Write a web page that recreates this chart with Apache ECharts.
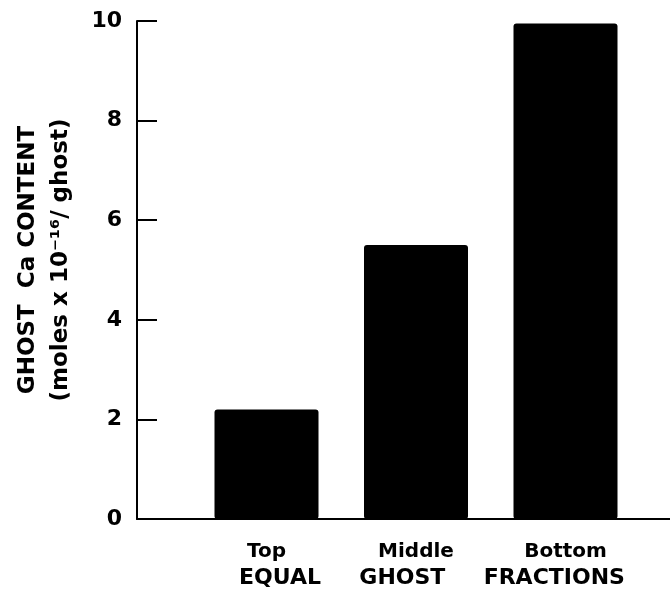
<!DOCTYPE html>
<html>
<head>
<meta charset="utf-8">
<script src="https://cdn.jsdelivr.net/npm/echarts@6/dist/echarts.min.js"></script>
<style>html,body{margin:0;padding:0;background:#fff}#c{width:670px;height:592px}</style>
</head>
<body>
<div id="c"></div>
<script>
const categories = ['Top', 'Middle', 'Bottom'];
const caContent = [2.2, 5.5, 9.95];
const yTicks = [0, 2, 4, 6, 8, 10];
const yName = 'GHOST  Ca CONTENT\n(moles x 10\u207B\u00B9\u2076/ ghost)';
const xName = 'EQUAL     GHOST     FRACTIONS';

const font = 'DejaVu Sans';
const chart = echarts.init(document.getElementById('c'));
chart.setOption({
  animation: false,
  backgroundColor: '#fff',
  grid: [
    { left: 137, right: 0, top: 21, bottom: 73, outerBoundsMode: 'none', containLabel: false },
    { left: 191.75, width: 448.5, top: 21, bottom: 73, outerBoundsMode: 'none', containLabel: false }
  ],
  xAxis: [
    { gridIndex: 0, type: 'value', min: 0, max: 1,
      axisLine: { show: true, lineStyle: { color: '#000', width: 2 } },
      axisTick: { show: false }, axisLabel: { show: false }, splitLine: { show: false } },
    { gridIndex: 1, type: 'category', data: categories,
      axisLine: { show: false }, axisTick: { show: false }, splitLine: { show: false },
      axisLabel: { color: '#000', fontFamily: font, fontWeight: 'bold', fontSize: 20, margin: 23 },
      name: xName, nameLocation: 'middle', nameGap: 47,
      nameTextStyle: { color: '#000', fontFamily: font, fontWeight: 'bold', fontSize: 22, padding: [0, 0, 0, 32] } }
  ],
  yAxis: [
    { gridIndex: 0, type: 'value', min: 0, max: 10, interval: 2,
      axisLine: { show: true, lineStyle: { color: '#000', width: 2 } },
      axisTick: { show: true, inside: true, length: 20, lineStyle: { color: '#000', width: 2 } },
      axisLabel: { color: '#000', fontFamily: font, fontWeight: 'bold', fontSize: 22, margin: 15,
        formatter: v => yTicks.indexOf(v) >= 0 ? String(v) : '' },
      splitLine: { show: false },
      name: yName, nameLocation: 'middle', nameGap: 59, nameRotate: 90,
      nameTextStyle: { color: '#000', fontFamily: font, fontWeight: 'bold', fontSize: 23, lineHeight: 33, align: 'center', padding: [0, 0, 0, 20] } },
    { gridIndex: 1, type: 'value', min: 0, max: 10, show: false }
  ],
  series: [{
    type: 'bar', xAxisIndex: 1, yAxisIndex: 1,
    data: caContent, barWidth: 104,
    itemStyle: { color: '#000', borderRadius: 3 }
  }]
});
</script>
</body>
</html>
